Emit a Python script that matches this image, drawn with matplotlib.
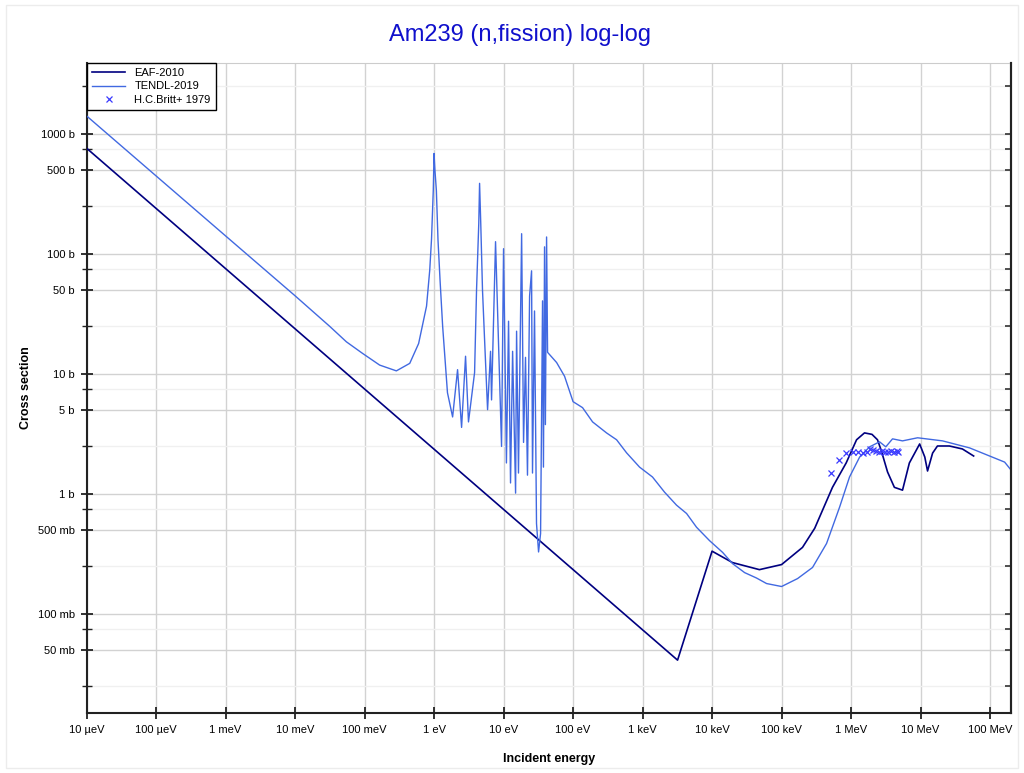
import numpy as np
import matplotlib
matplotlib.use("Agg")
from matplotlib import pyplot as plt
from matplotlib.patches import Rectangle
from matplotlib.ticker import FixedLocator, FixedFormatter, NullFormatter

plt.rcParams['font.family'] = ['Liberation Sans', 'DejaVu Sans']

# ---- data (energy in eV, cross section in barns) ----
eaf_energy = [1e-5, 3.19e3, 1.0e4, 1.97e4, 4.8e4, 1.0e5, 2.0e5, 3.0e5, 5.4e5, 8.5e5,
              1.2e6, 1.56e6, 2.0e6, 2.4e6, 2.7e6, 3.35e6, 4.2e6, 5.5e6, 6.9e6, 9.7e6,
              1.15e7, 1.26e7, 1.49e7, 1.75e7, 2.6e7, 4.0e7, 5.8e7]
eaf_xs = [764, 0.0414, 0.335, 0.269, 0.235, 0.259, 0.36, 0.52, 1.14, 1.82,
          2.84, 3.24, 3.15, 2.84, 2.34, 1.53, 1.14, 1.08, 1.82, 2.62,
          2.04, 1.56, 2.2, 2.52, 2.52, 2.38, 2.08]

tendl_energy = [1e-5, 1e-4, 1e-3, 1e-2, 0.0316, 0.0548, 0.0935, 0.165, 0.287, 0.447,
                0.6, 0.78, 0.867, 0.92, 0.975, 1.0, 1.03, 1.08, 1.14, 1.22, 1.33,
                1.56, 1.85, 2.18, 2.49, 2.84, 3.13, 3.83, 4.09, 4.40, 4.52, 4.70,
                4.98, 5.33, 5.89, 6.50, 6.72, 7.67, 9.36, 10.0, 11.0, 11.8,
                12.6, 13.5, 14.9, 15.4, 16.4, 18.2, 19.4, 20.7, 22.1, 23.7, 25.3,
                26.1, 27.9, 29.8, 31.9, 34.1, 36.4, 37.5, 38.9, 40.0, 41.6, 43.0,
                58.0, 75.5, 100, 137, 191, 303, 423, 589, 906, 1390, 2070, 3080,
                4300, 5980, 9200, 1.42e4, 1.97e4, 2.94e4, 4.37e4, 6.08e4, 1.0e5,
                1.7e5, 2.79e5, 4.44e5, 6.84e5, 9.5e5, 1.33e6, 1.85e6, 2.57e6,
                3.16e6, 3.95e6, 5.5e6, 9.06e6, 2.07e7, 5.07e7, 1.62e8, 2.0e8]
tendl_xs = [1420, 449, 142, 45, 25, 18.6, 14.9, 11.9, 10.65, 12.3,
            18.0, 36.9, 73.6, 134, 340, 690, 500, 340, 131, 60.7, 25,
            7.0, 4.4, 10.9, 3.6, 14.1, 4.0, 10.3, 51, 180, 389, 180,
            50, 19.6, 5.06, 15.5, 6.1, 127, 2.5, 111, 1.82, 27.6,
            1.24, 15.5, 1.02, 22.8, 1.5, 148, 2.7, 13.8, 1.44, 44.8, 72.6,
            1.5, 33.6, 0.57, 0.33, 0.47, 40.8, 1.68, 115, 3.8, 139, 15.2,
            12.5, 9.6, 5.9, 5.26, 4.0, 3.24, 2.84, 2.21, 1.68, 1.39, 1.04, 0.81,
            0.69, 0.53, 0.41, 0.327, 0.264, 0.222, 0.2, 0.18, 0.17,
            0.198, 0.245, 0.388, 0.78, 1.39, 2.04, 2.48, 2.73,
            2.48, 2.89, 2.78, 2.95, 2.78, 2.43, 1.85, 1.59]

britt_energy = [5.07e5, 6.61e5, 8.34e5, 1.05e6, 1.24e6, 1.47e6, 1.67e6, 1.85e6,
                2.04e6, 2.25e6, 2.49e6, 2.75e6, 3.04e6, 3.35e6, 3.7e6, 4.09e6,
                4.52e6, 4.7e6]
britt_xs = [1.50, 1.93, 2.21, 2.25, 2.25, 2.21, 2.25, 2.38,
            2.33, 2.29, 2.25, 2.29, 2.25, 2.25, 2.29, 2.25,
            2.29, 2.25]

x_ticks = [1e-5, 1e-4, 1e-3, 1e-2, 1e-1, 1, 10, 100, 1e3, 1e4, 1e5, 1e6, 1e7, 1e8]
x_labels = ['10 µeV', '100 µeV', '1 meV', '10 meV', '100 meV', '1 eV', '10 eV',
            '100 eV', '1 keV', '10 keV', '100 keV', '1 MeV', '10 MeV', '100 MeV']
y_ticks = [0.05, 0.1, 0.5, 1, 5, 10, 50, 100, 500, 1000]
y_labels = ['50 mb', '100 mb', '500 mb', '1 b', '5 b', '10 b', '50 b', '100 b',
            '500 b', '1000 b']
y_minor = [0.025, 0.075, 0.25, 0.75, 2.5, 7.5, 25, 75, 250, 750, 2500]

fig = plt.figure(figsize=(10.24, 7.73), dpi=100)
fig.patches.append(Rectangle((0.006, 0.006), 0.988, 0.988, transform=fig.transFigure,
                             fill=False, edgecolor='#ececec', linewidth=1))
ax = fig.add_axes([0.0845, 0.078, 0.9028, 0.8411])

ax.plot(eaf_energy, eaf_xs, color='#000080', lw=1.2, label='EAF-2010', zorder=3)
ax.plot(tendl_energy, tendl_xs, color='#4169E1', lw=1.0, label='TENDL-2019', zorder=3)
ax.plot(britt_energy, britt_xs, ls='none', marker='x', ms=4, mew=0.9,
        color='#3a3aff', label='H.C.Britt+ 1979', zorder=4)

ax.set_xscale('log')
ax.set_yscale('log')
ax.set_xlim(1e-5, 2e8)
ax.set_ylim(0.0151, 3950)

ax.xaxis.set_major_locator(FixedLocator(x_ticks))
ax.xaxis.set_major_formatter(FixedFormatter(x_labels))
ax.xaxis.set_minor_locator(FixedLocator([]))
ax.yaxis.set_major_locator(FixedLocator(y_ticks))
ax.yaxis.set_major_formatter(FixedFormatter(y_labels))
ax.yaxis.set_minor_locator(FixedLocator(y_minor))
ax.yaxis.set_minor_formatter(NullFormatter())

ax.tick_params(axis='both', which='major', direction='inout', length=9, width=1.3,
               labelsize=8, color='#222222', pad=4)
ax.tick_params(axis='y', which='minor', direction='inout', length=7, width=1.0,
               color='#222222')

# short inward ticks on the right side
ax2 = ax.twinx()
ax2.set_yscale('log')
ax2.set_ylim(ax.get_ylim())
ax2.yaxis.set_major_locator(FixedLocator(y_ticks))
ax2.yaxis.set_minor_locator(FixedLocator(y_minor))
ax2.yaxis.set_major_formatter(NullFormatter())
ax2.yaxis.set_minor_formatter(NullFormatter())
ax2.tick_params(axis='y', which='both', direction='in', length=4, width=1.2,
                color='#333333')
for side in ['left', 'bottom', 'top']:
    ax2.spines[side].set_visible(False)
ax2.spines['right'].set_linewidth(1.5)
ax2.spines['right'].set_color('#222222')

ax.grid(True, which='major', axis='y', color='#d2d2d2', lw=1.0)
ax.grid(True, which='minor', axis='y', color='#f0f0f0', lw=1.0)
ax.grid(True, which='major', axis='x', color='#d2d2d2', lw=1.0)
ax.set_axisbelow(True)

for side in ['left', 'bottom', 'right']:
    ax.spines[side].set_linewidth(1.5)
    ax.spines[side].set_color('#222222')
ax.spines['top'].set_linewidth(0.8)
ax.spines['top'].set_color('#cccccc')

ax.set_xlabel('Incident energy', fontsize=9, fontweight='bold', labelpad=13)
ax.set_ylabel('Cross section', fontsize=9, fontweight='bold', labelpad=4)
fig.suptitle('Am239 (n,fission) log-log', fontsize=17, color='#1010cc',
             x=0.508, y=0.955, va='center')

leg = ax.legend(loc='upper left', bbox_to_anchor=(0, 1), borderaxespad=0,
                fontsize=8, handlelength=3.0, labelspacing=0.3, fancybox=False,
                framealpha=1, edgecolor='black', borderpad=0.5, handletextpad=0.8)
leg.get_frame().set_linewidth(1.0)
leg.set_zorder(10)

fig.savefig('out.png', dpi=100)
